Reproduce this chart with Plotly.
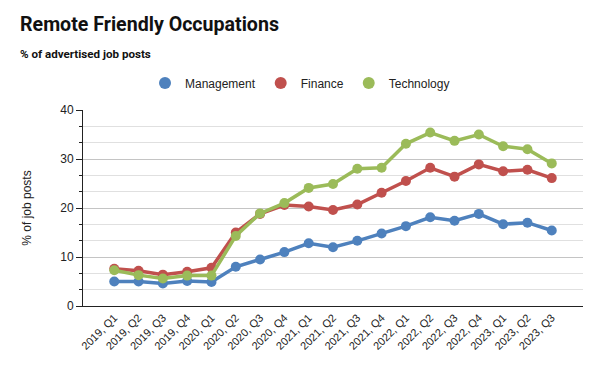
import plotly.graph_objects as go

quarters = ["2019, Q1", "2019, Q2", "2019, Q3", "2019, Q4", "2020, Q1", "2020, Q2", "2020, Q3", "2020, Q4",
            "2021, Q1", "2021, Q2", "2021, Q3", "2021, Q4", "2022, Q1", "2022, Q2", "2022, Q3", "2022, Q4",
            "2023, Q1", "2023, Q2", "2023, Q3"]
management = [5.0, 5.0, 4.6, 5.1, 4.9, 8.0, 9.5, 11.0, 12.8, 12.0, 13.3, 14.8, 16.3, 18.1, 17.4, 18.8, 16.7, 17.0, 15.4]
finance = [7.6, 7.2, 6.4, 7.0, 7.8, 15.0, 18.8, 20.6, 20.3, 19.6, 20.7, 23.1, 25.5, 28.2, 26.4, 28.9, 27.5, 27.8, 26.1]
technology = [7.3, 6.3, 5.6, 6.2, 6.2, 14.3, 18.9, 21.0, 24.1, 24.9, 28.0, 28.2, 33.1, 35.4, 33.7, 35.0, 32.6, 32.0, 29.1]

series = [("Management", management, "#4e81bd"),
          ("Finance", finance, "#c0504d"),
          ("Technology", technology, "#9bbb59")]

y_max = 40
major_step = 10
minor_step = 10 / 3
minor_vals = [k * minor_step for k in range(1, int(round(y_max / minor_step)) + 1) if k % 3 != 0]

W, H = 600, 371
L, R, T, B = 83, 17, 110, 65
pw, ph = W - L - R, H - T - B

fig = go.Figure()
# helper trace so the minor-grid overlay axis is drawn
fig.add_trace(go.Scatter(x=[None], y=[None], yaxis="y2", showlegend=False, hoverinfo="skip"))
for name, vals, col in series:
    fig.add_trace(go.Scatter(x=quarters, y=vals, name=name, mode="lines+markers",
                             line=dict(color=col, width=3.5),
                             marker=dict(color=col, size=10), showlegend=False))
# legend entries (circle only)
for name, vals, col in series:
    fig.add_trace(go.Scatter(x=[None], y=[None], name=name, mode="markers",
                             marker=dict(color=col, size=12), showlegend=True))

fig.update_layout(
    width=W, height=H,
    margin=dict(l=L, r=R, t=T, b=B, autoexpand=False),
    paper_bgcolor="white", plot_bgcolor="white",
    font=dict(family="Arial, Liberation Sans, sans-serif", color="#222"),
    showlegend=True,
    legend=dict(orientation="h", x=(300 - L) / pw, xanchor="center", y=1 + 27 / ph, yanchor="middle",
                font=dict(family="Arial, Liberation Sans", size=12, color="#222"),
                itemwidth=30, tracegroupgap=0),
    xaxis=dict(type="category", categoryorder="array", categoryarray=quarters,
               tickangle=-45, showgrid=False, showline=True, linecolor="#222",
               linewidth=1, ticks="", automargin=False,
               tickfont=dict(family="Arial, Liberation Sans", size=11, color="#222")),
    yaxis=dict(range=[0, y_max], tickmode="linear", dtick=major_step, tick0=0, showline=True,
               linecolor="#222", linewidth=1,
               ticks="outside", ticklen=6, tickcolor="#222", automargin=False,
               gridcolor="#c4c4c4", gridwidth=1, zeroline=False,
               tickfont=dict(family="Arial, Liberation Sans", size=12, color="#222"),
               title=dict(text="% of job posts", font=dict(family="Arial, Liberation Sans", size=12, color="#222"), standoff=26)),
    yaxis2=dict(range=[0, y_max], overlaying="y", side="left", tickmode="array", tickvals=minor_vals,
                showticklabels=False, showgrid=True, gridcolor="#e0e0e0", gridwidth=1,
                showline=False, zeroline=False, ticks="outside", ticklen=3, tickcolor="#222",
                automargin=False),
    annotations=[
        dict(text="<b>Remote Friendly Occupations</b>", xref="paper", yref="paper",
             x=(18 - L) / pw, y=1 + (T - 38) / ph, xanchor="left", yanchor="bottom",
             showarrow=False, font=dict(family="Roboto", size=19.6, color="#111")),
        dict(text="<b>% of advertised job posts</b>", xref="paper", yref="paper",
             x=(18 - L) / pw, y=1 + (T - 63) / ph, xanchor="left", yanchor="bottom",
             showarrow=False, font=dict(family="Roboto", size=11.6, color="#111")),
    ],
)

fig.write_html("out.html", config={"displayModeBar": False},
               post_script="document.body.style.margin='0';")
